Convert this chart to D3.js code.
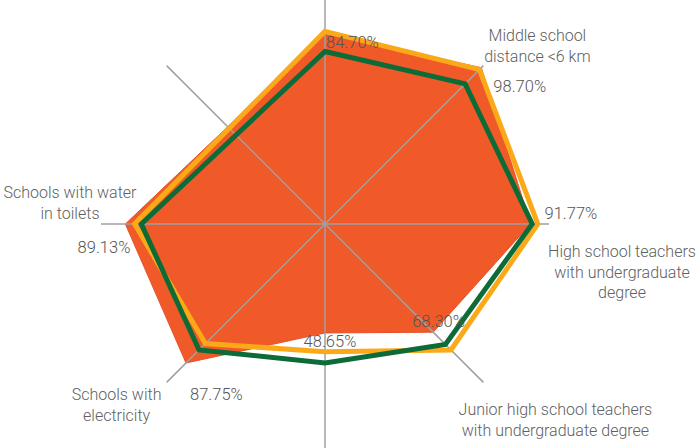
<!DOCTYPE html>
<html><head><meta charset="utf-8">
<script src="https://cdn.jsdelivr.net/npm/d3@7"></script>
<style>
html,body{margin:0;padding:0;background:#fff;}
svg{display:block;}
text{font-family:Roboto,"Noto Sans",sans-serif;font-weight:300;}
</style></head>
<body>
<svg id="chart" width="700" height="448"></svg>
<script>
// axes clockwise from top (top-left axis has no data)
const categories = ["", "Middle school\ndistance <6 km", "High school teachers\nwith undergraduate\ndegree", "Junior high school teachers\nwith undergraduate degree", "", "Schools with\nelectricity", "Schools with water\nin toilets", ""];
const seriesMain   = [84.70, 98.70, 91.77, 68.30, 48.65, 87.75, 89.13, null];
const seriesYellow = [86.0, 97.5, 95.0, 79.5, 57.0, 75.5, 85.0, null];
const seriesGreen  = [77.0, 88.5, 92.5, 76.0, 62.0, 79.5, 82.0, null];
const valueLabels  = ["84.70%", "98.70%", "91.77%", "68.30%", "48.65%", "87.75%", "89.13%", ""];

const colors = {fill:"#F05A28", fillEdge:"#E8502A", yellow:"#FBA919", green:"#0D6B37", axis:"#A0A0A0", text:"#606060", value:"#555555"};

const svg = d3.select("#chart");
const cx = 325, cy = 224, R = 224;
const n = categories.length;
const angle = d3.scaleLinear().domain([0, n]).range([0, 2*Math.PI]);
const r = d3.scaleLinear().domain([0, 100]).range([0, R]);
const pt = (i, v) => [cx + r(v)*Math.sin(angle(i)), cy - r(v)*Math.cos(angle(i))];

const g = svg.append("g").attr("transform", `translate(${cx},${cy})`);
const radial = d3.lineRadial().angle(d => angle(d.i)).radius(d => r(d.v)).curve(d3.curveLinearClosed);
const pts = arr => arr.map((v,i)=>({i,v})).filter(d => d.v != null);

// filled main series
g.append("path").attr("d", radial(pts(seriesMain)))
  .attr("fill", colors.fill).attr("stroke", colors.fillEdge).attr("stroke-width", 1);

// axes
g.selectAll("line.axis").data(d3.range(n)).join("line").attr("class","axis")
  .attr("x1",0).attr("y1",0)
  .attr("x2", i => r(100)*Math.sin(angle(i)))
  .attr("y2", i => -r(100)*Math.cos(angle(i)))
  .attr("stroke", colors.axis).attr("stroke-width", 1.5);

// line series
g.append("path").attr("d", radial(pts(seriesYellow)))
  .attr("fill","none").attr("stroke", colors.yellow).attr("stroke-width", 5).attr("stroke-linejoin","miter");
g.append("path").attr("d", radial(pts(seriesGreen)))
  .attr("fill","none").attr("stroke", colors.green).attr("stroke-width", 5).attr("stroke-linejoin","miter");

// value labels (offset from main-series vertex)
const valOff = [[1,14,"start"],[12,24,"start"],[14,-5,"start"],[-21,-5,"start"],[5,14,"middle"],[4,37,"start"],[5,29,"end"],[0,0,"start"]];
valueLabels.forEach((t,i) => {
  if (!t) return;
  const [x,y] = pt(i, seriesMain[i]);
  svg.append("text").attr("x", x+valOff[i][0]).attr("y", y+valOff[i][1])
    .attr("text-anchor", valOff[i][2]).attr("font-size", 16.5).attr("fill", colors.value).text(t);
});

// category labels (offset from axis end)
const catOff = [[0,0],[54,-24.5],[73,33],[72,33],[0,0],[-50,18],[-31,-26],[0,0]];
categories.forEach((c,i) => {
  if (!c) return;
  const [x,y] = pt(i, 100);
  const tx = svg.append("text").attr("text-anchor","middle").attr("font-size",16).attr("fill",colors.text);
  c.split("\n").forEach((line,k) => {
    tx.append("tspan").attr("x", x+catOff[i][0]).attr("y", y+catOff[i][1]+k*20.5).text(line);
  });
});
</script>
</body></html>
